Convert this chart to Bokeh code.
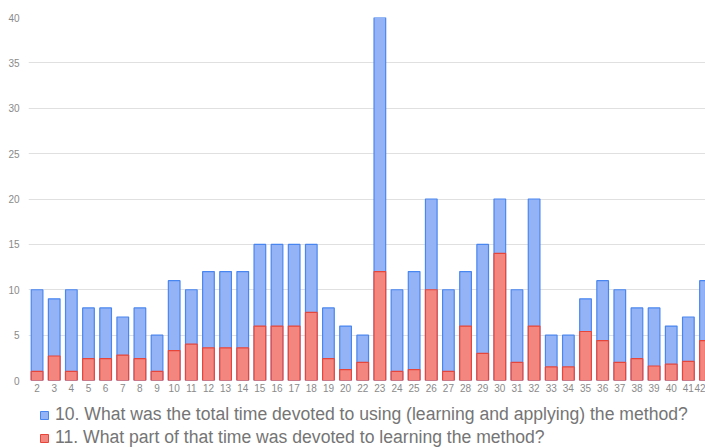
from bokeh.plotting import figure
from bokeh.models import Range1d, FixedTicker, Legend, LegendItem, ColumnDataSource
from bokeh.layouts import column
from bokeh.embed import file_html
from bokeh.resources import INLINE

labels = ["2", "3", "4", "5", "6", "7", "8", "9", "10", "11", "12", "13", "14", "15",
          "16", "17", "18", "19", "20", "22", "23", "24", "25", "26", "27", "28", "29",
          "30", "31", "32", "33", "34", "35", "36", "37", "38", "39", "40", "41", "42"]
total_time = [10, 9, 10, 8, 8, 7, 8, 5, 11, 10, 12, 12, 12, 15, 15, 15, 15, 8, 6, 5,
              40, 10, 12, 20, 10, 12, 15, 20, 10, 20, 5, 5, 9, 11, 10, 8, 8, 6, 7, 11]
learning_time = [1, 2.7, 1, 2.4, 2.4, 2.8, 2.4, 1, 3.3, 4, 3.6, 3.6, 3.6, 6, 6, 6, 7.5, 2.4, 1.2, 2,
                 12, 1, 1.2, 10, 1, 6, 3, 14, 2, 6, 1.5, 1.5, 5.4, 4.4, 2, 2.4, 1.6, 1.8, 2.1, 4.4]
y_ticks = [0, 5, 10, 15, 20, 25, 30, 35, 40]
series_names = ["10. What was the total time devoted to using (learning and applying) the method?",
                "11. What part of that time was devoted to learning the method?"]

BLUE_FILL, BLUE_LINE = "#93b3f6", "#4a86ef"
RED_FILL, RED_LINE = "#f3867f", "#e8453a"

idx = list(range(len(labels)))
src = ColumnDataSource(dict(x=idx, total=total_time, learn=learning_time))

p = figure(width=705, height=395, output_backend="svg", toolbar_location=None,
           x_range=Range1d(-0.5, 39.0), y_range=Range1d(0, 40),
           min_border_left=28, min_border_right=0, min_border_top=17, min_border_bottom=15)
p.outline_line_color = None

p.vbar(x="x", top="total", width=0.68, source=src,
       fill_color=BLUE_FILL, line_color=BLUE_LINE, line_width=1.2)
p.vbar(x="x", top="learn", width=0.68, source=src,
       fill_color=RED_FILL, line_color=RED_LINE, line_width=1.2)

p.xaxis.ticker = FixedTicker(ticks=idx)
p.xaxis.major_label_overrides = {i: l for i, l in enumerate(labels)}
p.yaxis.ticker = FixedTicker(ticks=y_ticks)
for ax in (p.xaxis, p.yaxis):
    ax.axis_line_color = None
    ax.major_tick_line_color = None
    ax.minor_tick_line_color = None
    ax.major_tick_out = 0
    ax.major_tick_in = 0
    ax.major_label_text_font = "Liberation Sans"
    ax.major_label_text_font_size = "10px"
    ax.major_label_text_color = "#8a8a8a"
p.xaxis.major_label_standoff = 3
p.yaxis.major_label_standoff = 9

p.xgrid.grid_line_color = None
p.ygrid.grid_line_color = "#e0e0e0"
p.ygrid.grid_line_width = 1

# legend strip under the chart (its data lies outside this strip's y range)
lg = figure(width=705, height=53, output_backend="svg", toolbar_location=None,
            x_axis_location=None, y_axis_location=None,
            x_range=Range1d(-0.5, 39.0), y_range=Range1d(-20, -10),
            min_border_left=0, min_border_right=0, min_border_top=0, min_border_bottom=0)
lg.grid.visible = False
lg.outline_line_color = None
lb = lg.scatter(x="x", y="total", source=src, marker="square",
                fill_color=BLUE_FILL, line_color=BLUE_LINE, line_width=1)
lr = lg.scatter(x="x", y="learn", source=src, marker="square",
                fill_color=RED_FILL, line_color=RED_LINE, line_width=1)

legend = Legend(items=[LegendItem(label=series_names[0], renderers=[lb]),
                       LegendItem(label=series_names[1], renderers=[lr])],
                location=(5, 0), orientation="vertical")
legend.margin = 0
legend.padding = 0
legend.spacing = 2
legend.glyph_width = 22
legend.glyph_height = 20
legend.label_height = 20
legend.label_standoff = 0
legend.label_text_font = "Liberation Sans"
legend.label_text_font_size = "17.6px"
legend.label_text_color = "#757575"
legend.border_line_alpha = 0
legend.background_fill_alpha = 0
lg.add_layout(legend, "center")

layout = column(p, lg, spacing=0)
open("out.html", "w").write(file_html(layout, INLINE))
